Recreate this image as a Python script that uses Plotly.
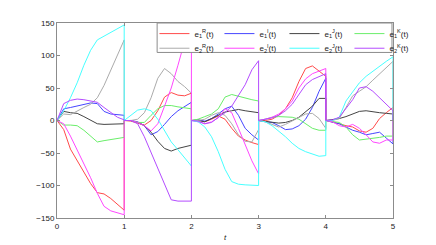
import plotly.graph_objects as go

# time grid inside each unit interval (relative)
seg_t = [0.0, 0.1, 0.2, 0.3, 0.4, 0.5, 0.6, 0.7, 0.8, 0.9, 1.0]
n_segments = 5

# values per interval [0,1],[1,2],...,[4,5]; every interval restarts at 0
e1R = [
    [0, -14, -44, -62, -78, -97, -111, -113, -120, -129, -138],
    [0, -1, -4, -7, 0, 15, 36, 43, 39, 38, 42],
    [0, 1, -2, 2, 7, 2, -12, -24, -30, -34, -37],
    [0, 0, 2, 8, 18, 35, 60, 80, 84, 76, 68],
    [0, -2, -5, -8, -10, -16, -18, -12, 3, 12, 20],
]
e1I = [
    [0, 18, 20, 22, 25, 27, 26, 14, 10, 9, 8],
    [0, 0, -2, -8, -22, -17, -6, 6, 15, 22, 28],
    [0, 1, -1, 3, 10, 18, 22, 8, -12, -22, -30],
    [0, -2, -3, -8, -14, -13, -8, 2, 20, 45, 65],
    [0, -2, -5, -10, -15, -18, -22, -20, -18, -27, -36],
]
e1J = [
    [0, 14, 12, 11, 6, 0, -5, -6, -6, -5, -5],
    [0, 0, -3, -8, -18, -32, -43, -47, -43, -40, -38],
    [0, 0, -2, 3, 9, 13, 15, 17, 15, 13, 12],
    [0, -1, -3, -4, -3, 0, 5, 13, 22, 34, 34],
    [0, 1, 3, 6, 10, 14, 15, 13, 12, 11, 10],
]
e1K = [
    [0, -7, -7, -8, -15, -24, -33, -31, -29, -28, -26],
    [0, 0, -3, -3, 8, 18, 23, 23, 21, 19, 18],
    [0, 2, 6, 10, 18, 36, 40, 37, 34, 32, 30],
    [0, 2, 5, 6, 6, 5, 2, -5, -12, -15, -15],
    [0, -1, -3, -10, -22, -30, -29, -27, -26, -24, -24],
]
e2R = [
    [0, 10, 9, 15, 20, 25, 35, 54, 78, 100, 124],
    [0, 0, 2, 12, 35, 65, 80, 72, 60, 52, 42],
    [0, 0, 2, 8, 12, 8, -5, -22, -32, -33, -14],
    [0, -2, -6, -10, -6, -1, 4, 10, 11, 3, -12],
    [0, 0, 3, 20, 38, 45, 52, 62, 72, 82, 91],
]
e2I = [
    [0, -5, -24, -45, -65, -88, -112, -132, -139, -142, -145],
    [0, 0, -3, -8, -16, -5, 22, 50, 85, 122, 150],
    [0, -2, -5, -2, 4, 18, 12, -12, -38, -62, -82],
    [0, 2, 5, 10, 18, 30, 50, 64, 72, 76, 80],
    [0, -2, -8, -10, -6, -12, -22, -33, -35, -30, -30],
]
e2J = [
    [0, 15, 35, 58, 85, 108, 124, 130, 136, 141, 147],
    [0, 8, 16, 18, 15, 2, -15, -33, -45, -57, -70],
    [0, -2, -10, -25, -48, -75, -94, -98, -99, -100, -100],
    [0, -2, -8, -16, -25, -35, -43, -48, -52, -55, -54],
    [0, 0, 5, 30, 45, 58, 68, 76, 84, 91, 98],
]
e2K = [
    [0, 26, 31, 33, 32, 30, 28, 20, 12, 5, 1],
    [0, 0, -5, -25, -50, -72, -100, -122, -124, -124, -124],
    [0, -1, -5, -3, 5, 12, 22, 38, 55, 78, 92],
    [0, 2, 4, 8, 15, 25, 40, 55, 63, 68, 72],
    [0, 1, 5, 18, 32, 50, 52, 45, 35, 25, 15],
]

series_names = ["e1R", "e1I", "e1J", "e1K", "e2R", "e2I", "e2J", "e2K"]
series_data = [e1R, e1I, e1J, e1K, e2R, e2I, e2J, e2K]
labels = [
    "e<sub>1</sub><sup>R</sup>(t)", "e<sub>1</sub><sup>I</sup>(t)",
    "e<sub>1</sub><sup>J</sup>(t)", "e<sub>1</sub><sup>K</sup>(t)",
    "e<sub>2</sub><sup>R</sup>(t)", "e<sub>2</sub><sup>I</sup>(t)",
    "e<sub>2</sub><sup>J</sup>(t)", "e<sub>2</sub><sup>K</sup>(t)",
]
colors = ["#ff4a4a", "#4646ff", "#444444", "#6aee6a",
          "#ababab", "#ff46ff", "#46ffff", "#b44cff"]

x_ticks = [0, 1, 2, 3, 4, 5]
y_ticks = [-150, -100, -50, 0, 50, 100, 150]

fig = go.Figure()
for i, (name, segs) in enumerate(zip(series_names, series_data)):
    xs, ys = [], []
    for k, seg in enumerate(segs):
        xs += [k + s for s in seg_t]
        ys += seg
    xs.append(n_segments)
    ys.append(0)
    fig.add_trace(go.Scatter(
        x=xs, y=ys, mode="lines", name=labels[i],
        line=dict(color=colors[i], width=1),
        legend="legend" if i < 4 else "legend2",
    ))

font = dict(family="Liberation Sans, Arial, sans-serif", size=8, color="#222222")
axis_common = dict(
    showgrid=False, zeroline=False, showline=True, linecolor="#8c8c8c", linewidth=1,
    mirror="ticks", ticks="inside", ticklen=3, tickcolor="#8c8c8c",
    tickfont=font, automargin=False,
)
leg_common = dict(orientation="h", xanchor="left", yanchor="top", bgcolor="rgba(0,0,0,0)",
                  borderwidth=0, font=font, itemwidth=30, entrywidth=20,
                  tracegroupgap=0, itemclick=False, itemdoubleclick=False)
# page body adds an 8px offset, so the figure is 8px smaller and margins shifted
fig.update_layout(
    width=428, height=237,
    margin=dict(l=49, r=43, t=11, b=27),
    paper_bgcolor="white", plot_bgcolor="white",
    showlegend=True,
    xaxis=dict(range=[0, 5], tickvals=x_ticks, title=dict(text="<i>t</i>", font=font, standoff=4), **axis_common),
    yaxis=dict(range=[-150, 150], tickvals=y_ticks, **axis_common),
    legend=dict(x=0.29, y=1.02, **leg_common),
    legend2=dict(x=0.29, y=0.945, **leg_common),
    shapes=[dict(type="rect", xref="paper", yref="paper", x0=0.298, x1=0.997, y0=0.849, y1=1.0,
                 line=dict(color="#8c8c8c", width=1), fillcolor="white", layer="above")],
)
fig.write_html("out.html")
